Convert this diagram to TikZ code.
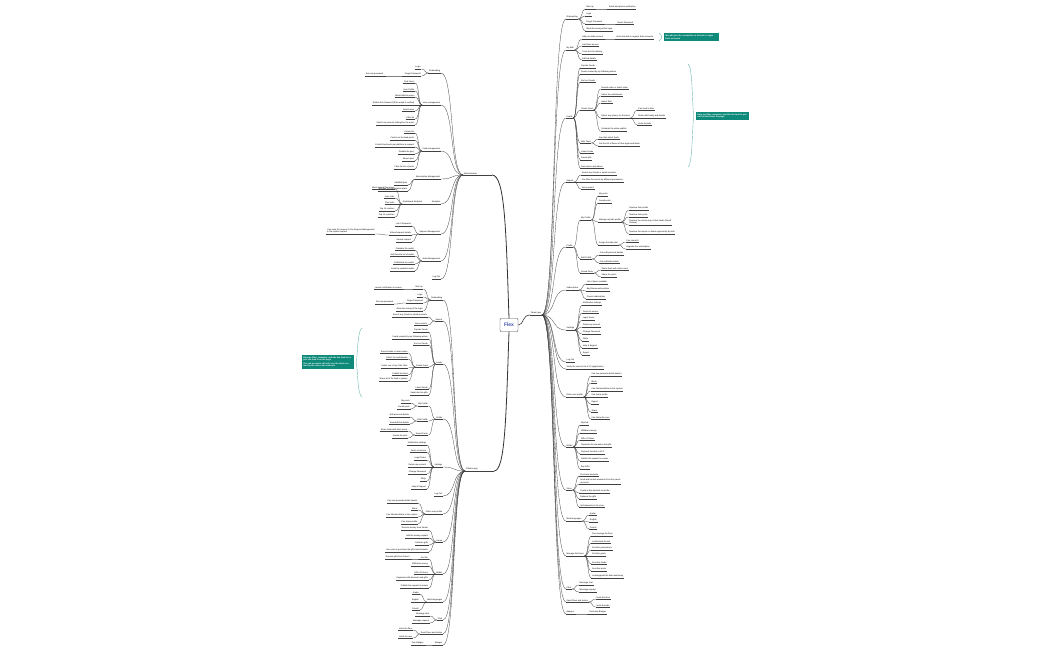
\documentclass[tikz,border=0pt]{standalone}
\usepackage{fontspec}
\setmainfont{Liberation Sans}
\usetikzlibrary{calc}
\definecolor{tealc}{HTML}{0E8A7A}
\definecolor{flexblue}{HTML}{3F51B5}
\newcommand{\lf}{\fontsize{2.1}{2.6}\selectfont}
\tikzset{
 leaf/.style={font=\lf, inner xsep=0.6pt, inner ysep=0.7pt, align=left},
 ul/.style={draw=black!75, line width=0.25pt},
 conn/.style={draw=black!75, line width=0.3pt},
 note/.style={fill=tealc, text=white, font=\lf\bfseries, inner sep=1.5pt, align=left},
 bracket/.style={draw=tealc!60, line width=0.4pt}
}
% \lchild[gap]{id}{parent}{y}{text}
\newcommand{\lchild}[5][7]{%
 \coordinate (tmpa) at ($(#3.south west)+(-#1,0)$);
 \coordinate (tmpb) at (0,#4+2);
 \node[leaf,anchor=south east] (#2) at (tmpa |- tmpb) {#5};
 \draw[ul] (#2.south west) -- (#2.south east);
 \draw[conn] (#3.south west) .. controls +(-0.6*#1,0) and +(0.6*#1,0) .. (#2.south east);}
\newcommand{\rchild}[5][7]{%
 \coordinate (tmpa) at ($(#3.south east)+(#1,0)$);
 \coordinate (tmpb) at (0,#4+2);
 \node[leaf,anchor=south west] (#2) at (tmpa |- tmpb) {#5};
 \draw[ul] (#2.south west) -- (#2.south east);
 \draw[conn] (#3.south east) .. controls +(0.6*#1,0) and +(-0.6*#1,0) .. (#2.south west);}
\begin{document}
\begin{tikzpicture}[x=1pt,y=-1pt]
\useasboundingbox[fill=white] (0,0) rectangle (1050,650);
% centre
\node[draw=black!70, rounded corners=1pt, fill=white, text=flexblue, font=\fontsize{5}{6}\selectfont\bfseries, minimum width=18pt, minimum height=13pt] (flex) at (509,325) {Flex};
% level 1
\node[leaf,anchor=south west] (auth) at (463,175) {Authentication};
\node[leaf,anchor=south west] (chapp) at (465,471) {Children app};
\node[leaf,anchor=south west] (pa) at (530,315) {Parent app};
\coordinate (authend) at (492,175);
\coordinate (chend) at (494,471);
\draw[ul] (auth.south west) -- (authend);
\draw[ul] (chapp.south west) -- (chend);
\draw[ul] (pa.south west) -- (pa.south east);
\draw[black!80, line width=0.8pt] (authend) .. controls (505,175) and (506,230) .. (flex.north);
\draw[black!80, line width=0.8pt] (chend) .. controls (505,471) and (506,420) .. (flex.south);
\draw[black!80, line width=0.6pt] (flex.east) .. controls (524,325) and (522,315) .. (pa.south west);

% ===== Authentication =====
\lchild[22]{a1}{auth}{71}{Onboarding}
 \lchild{a11}{a1}{67}{Login}
 \lchild{a12}{a1}{74}{Forgot Password}
  \lchild[20]{a121}{a12}{74}{Set new password}
\lchild[22]{a2}{auth}{103}{User management}
 \lchild{a21}{a2}{81}{Find Users}
 \lchild{a22}{a2}{89}{User Profile}
 \lchild{a23}{a2}{95}{Block/Unblock users}
 \lchild{a24}{a2}{103}{Enable the Password (if the email is verified)}
 \lchild{a25}{a2}{109}{Search user}
 \lchild{a26}{a2}{117}{Filter list}
 \lchild{a27}{a2}{123}{Switch my account settings for the users}
\lchild[22]{a3}{auth}{149}{Feed management}
 \lchild{a31}{a3}{131}{Create list}
 \lchild{a32}{a3}{138}{Control on the feed posts}
 \lchild{a33}{a3}{145}{Control feed posts per platform in request}
 \lchild{a34}{a3}{152}{Disable the post}
 \lchild{a35}{a3}{159}{Search post}
 \lchild{a36}{a3}{167}{Filter the list of posts}
\lchild[22]{a4}{auth}{177}{Subscription Management}
 \lchild{a41}{a4}{183}{Add/Edit plan}
 \lchild{a42}{a4}{189}{Manage the subscription plans}
\lchild[22]{a5}{auth}{202}{Analytics}
 \lchild[8]{a51}{a5}{202}{Dashboard Analytics}
  \lchild{a511}{a51}{187}{Most viewed Flex users}
  \lchild{a512}{a51}{196}{User stats}
  \lchild{a513}{a51}{202}{Flex stats}
  \lchild{a514}{a51}{209}{Top 10 creators}
  \lchild{a515}{a51}{215}{Top 10 countries}
\lchild[22]{a6}{auth}{232}{Request Management}
 \lchild{a61}{a6}{224}{List of Requests}
 \lchild{a62}{a6}{233}{Extend request details}
  \lchild[14]{a621}{a62}{232}{Can open the request to the Request Management\\in the system request}
 \lchild{a63}{a6}{240}{Search request}
\lchild[22]{a7}{auth}{259}{Audit Management}
 \lchild{a71}{a7}{248}{Calendar the audits}
 \lchild{a72}{a7}{254}{Set/View the list of audits}
 \lchild{a73}{a7}{262}{Get/Delete the audits}
 \lchild{a74}{a7}{269}{Send the updated audits}
\lchild[22]{a8}{auth}{277}{Log Out}

% ===== Children app =====
\lchild[22]{c1}{chapp}{298}{Onboarding}
 \lchild{c11}{c1}{287}{Start up}
  \lchild[12]{c111}{c11}{287}{Launch notification to screen}
 \lchild{c12}{c1}{295}{Login}
 \lchild{c13}{c1}{301}{Forgot Password}
  \lchild[12]{c131}{c13}{302}{Set new password}
 \lchild{c14}{c1}{309}{Allow the saving of the login}
\lchild[22]{c2}{chapp}{319}{Search}
 \lchild{c21}{c2}{315}{Search any Feeds or email accounts}
 \lchild{c22}{c2}{323}{Voice search}
\lchild[22]{c3}{chapp}{362}{Feeds}
 \lchild{c31}{c3}{330}{Popular Feeds}
 \lchild{c32}{c3}{337}{Feeds created by my following writers}
 \lchild{c33}{c3}{343}{Sort out Feeds}
 \lchild{c34}{c3}{365}{Create Feed}
  \lchild{c341}{c34}{351}{Record video or select video}
  \lchild{c342}{c34}{357}{Select the audio/music}
  \lchild{c343}{c34}{366}{Select one of any Film Filter}
  \lchild{c344}{c34}{373}{Publish the feed}
  \lchild{c345}{c34}{379}{Share all of the feed to gallery}
 \lchild{c35}{c3}{387}{Latest Feeds}
 \lchild{c36}{c3}{393}{Save/Like the gifts}
\lchild[22]{c4}{chapp}{417}{Profile}
 \lchild{c41}{c4}{404}{My Profile}
  \lchild{c411}{c41}{401}{My posts}
  \lchild{c412}{c41}{407}{Saved posts}
 \lchild{c42}{c4}{419}{Edit Profile}
  \lchild{c421}{c42}{415}{Edit personal details}
  \lchild{c422}{c42}{422}{Save/edit the details}
 \lchild{c43}{c4}{433}{Saved Posts}
  \lchild{c431}{c43}{429}{Share them with other users}
  \lchild{c432}{c43}{436}{Create the post}
\lchild[22]{c5}{chapp}{465}{Settings}
 \lchild{c51}{c5}{443}{Notification settings}
 \lchild{c52}{c5}{450}{Terms of service}
 \lchild{c53}{c5}{458}{Legal Terms}
 \lchild{c54}{c5}{465}{Delete my account}
 \lchild{c55}{c5}{472}{Change Password}
 \lchild{c56}{c5}{479}{FAQs}
 \lchild{c57}{c5}{487}{Help \& Support}
\lchild[22]{c6}{chapp}{494}{Log Out}
\lchild[22]{c7}{chapp}{512}{Other user profile}
 \lchild{c71}{c7}{501}{Can see personal details (basic)}
 \lchild{c72}{c7}{508}{Block}
 \lchild{c73}{c7}{515}{Can follow/unfollow in the system}
 \lchild{c74}{c7}{522}{Can share profile}
\lchild[22]{c8}{chapp}{540}{Home}
 \lchild{c81}{c8}{528}{Receive money from Parent}
 \lchild{c82}{c8}{536}{Add the money request}
 \lchild{c83}{c8}{543}{Get/earn gifts}
 \lchild{c84}{c8}{550}{Use coins to purchase the gifts and elements}
\lchild[22]{c9}{chapp}{572}{Wallet}
 \lchild{c91}{c9}{557}{Get the}
  \lchild[10]{c911}{c91}{557}{Receive gifts from Parent}
 \lchild{c92}{c9}{564}{Withdraw money}
 \lchild{c93}{c9}{572}{Gifts of Flexes}
 \lchild{c94}{c9}{578}{Payments with elements and gifts}
 \lchild{c95}{c9}{586}{Publish the request to review}
\lchild[22]{c10}{chapp}{600}{Multi languages}
 \lchild{c101}{c10}{592}{Arabic}
 \lchild{c102}{c10}{600}{English}
 \lchild{c103}{c10}{608}{French}
\lchild[22]{c11}{chapp}{618}{Chat}
 \lchild{c111b}{c11}{614}{Message chat}
 \lchild{c112}{c11}{621}{Message request}
\lchild[22]{c12}{chapp}{632}{Send Flexs and Invites}
 \lchild{c121}{c12}{628}{Invite the flexs}
 \lchild{c122}{c12}{636}{Invite the user}
\lchild[22]{c13}{chapp}{643}{Badges}
 \lchild[10]{c131b}{c13}{643}{Flex Badges}

% ===== Parent app =====
\rchild[24]{p1}{pa}{17}{Onboarding}
 \rchild{p11}{p1}{7}{Start up}
  \rchild[14]{p111}{p11}{7}{Email and phone verification}
 \rchild{p12}{p1}{14}{Login}
 \rchild{p13}{p1}{22}{Forgot Password}
  \rchild[14]{p131}{p13}{22}{Reset Password}
 \rchild{p14}{p1}{29}{Allow the saving of the login}
\rchild[24]{p2}{pa}{48}{My kids}
 \rchild{p21}{p2}{37}{Add your kids account}
  \rchild[12]{p211}{p21}{37}{Invite the kids to register their accounts}
 \rchild{p22}{p2}{44}{Limit their access}
 \rchild{p23}{p2}{52}{Track the Flex Money}
 \rchild{p24}{p2}{58}{Edit kid details}
\rchild[24]{p3}{pa}{116}{Feeds}
 \rchild{p31}{p3}{66}{Popular Feeds}
 \rchild{p32}{p3}{72}{Feeds created by my following writers}
 \rchild{p33}{p3}{80}{Sort out Feeds}
 \rchild{p34}{p3}{108}{Create Feed}
  \rchild{p341}{p34}{87}{Record video or select video}
  \rchild{p342}{p34}{94}{Select the audio/music}
  \rchild{p343}{p34}{101}{Select filter}
  \rchild{p344}{p34}{116}{Select any privacy for the feed}
   \rchild{p3441}{p344}{108}{Can send to kids}
   \rchild{p3442}{p344}{116}{Share with family and friends}
   \rchild{p3443}{p344}{123}{Invite the kids}
  \rchild{p345}{p34}{129}{Schedule the video publish}
 \rchild{p35}{p3}{141}{Kids Feed}
  \rchild{p351}{p35}{137}{See their latest feeds}
  \rchild{p352}{p35}{144}{Get the list of flexes of their approved feeds}
 \rchild{p36}{p3}{151}{Latest Feeds}
 \rchild{p37}{p3}{158}{Saved gifts}
 \rchild{p38}{p3}{166}{Save music and videos}
\rchild[24]{p4}{pa}{180}{Search}
 \rchild{p41}{p4}{173}{Search any Feeds or email accounts}
 \rchild{p42}{p4}{180}{Can filter the search by different parameters}
 \rchild{p43}{p4}{187}{Voice search}
\rchild[24]{p5}{pa}{245}{Profile}
 \rchild{p51}{p5}{218}{My Profile}
  \rchild{p511}{p51}{194}{My posts}
  \rchild{p512}{p51}{201}{Saved posts}
  \rchild{p513}{p51}{220}{Manage my kids profile}
   \rchild{p5131}{p513}{208}{Remove their profile}
   \rchild{p5132}{p513}{215}{Remove their posts}
   \rchild{p5133}{p513}{223}{Remove the activity log on their feeds (Read/\\Review)}
   \rchild{p5134}{p513}{232}{Remove the reports or delete opportunity by kids}
  \rchild{p514}{p51}{243}{Assign the kids plan}
   \rchild{p5141}{p514}{240}{Can cancel it}
   \rchild{p5142}{p514}{247}{Upgrade the subscription}
 \rchild{p52}{p5}{257}{Edit Profile}
  \rchild{p521}{p52}{253}{Can edit personal details}
  \rchild{p522}{p52}{261}{Can edit kids details}
 \rchild{p53}{p5}{271}{Saved Posts}
  \rchild{p531}{p53}{268}{Share them with other users}
  \rchild{p532}{p53}{275}{Share the posts}
\rchild[24]{p6}{pa}{288}{Subscription}
 \rchild{p61}{p6}{282}{List of plans available}
 \rchild{p62}{p6}{289}{Buy/Renew subscription}
 \rchild{p63}{p6}{297}{Cancel subscription}
\rchild[24]{p7}{pa}{328}{Settings}
 \rchild{p71}{p7}{303}{Notification settings}
 \rchild{p72}{p7}{311}{Terms of service}
 \rchild{p73}{p7}{318}{Legal Terms}
 \rchild{p74}{p7}{325}{Delete my account}
 \rchild{p75}{p7}{332}{Change Password}
 \rchild{p76}{p7}{339}{FAQs}
 \rchild{p77}{p7}{346}{Help \& Support}
 \rchild{p78}{p7}{353}{Report}
\rchild[24]{p8}{pa}{360}{Log Out}
\rchild[24]{p9}{pa}{367}{Verify the coins in the KYC (application)}
\rchild[24]{p10}{pa}{395}{Other user profile}
 \rchild{p101}{p10}{374}{Can see personal details (basic)}
 \rchild{p102}{p10}{381}{Block}
 \rchild{p103}{p10}{389}{Can follow/unfollow in the system}
 \rchild{p104}{p10}{395}{Can share profile}
 \rchild{p105}{p10}{402}{Report}
 \rchild{p106}{p10}{410}{Share}
 \rchild{p107}{p10}{417}{Can follow the user}
\rchild[24]{p11b}{pa}{445}{Wallet}
 \rchild{p111b}{p11b}{423}{My Kids}
 \rchild{p112}{p11b}{431}{Withdraw money}
 \rchild{p113}{p11b}{438}{Gifts of Flexes}
 \rchild{p114}{p11b}{445}{Payments the elements and gifts}
 \rchild{p115}{p11b}{452}{Payment function in KYC}
 \rchild{p116}{p11b}{459}{Publish the request to review}
 \rchild{p117}{p11b}{467}{Buy Gifts}
\rchild[24]{p12b}{pa}{488}{Store}
 \rchild{p121}{p12b}{474}{Purchase elements}
 \rchild{p122}{p12b}{482}{Send and receive elements from the parent\\accounts}
 \rchild{p123}{p12b}{491}{Create a flex element on profile}
 \rchild{p124}{p12b}{497}{Redeem the gifts}
 \rchild{p125}{p12b}{505}{Sell elements in the store}
\rchild[24]{p13b}{pa}{519}{Multi languages}
 \rchild{p131b}{p13b}{513}{Arabic}
 \rchild{p132}{p13b}{520}{English}
 \rchild{p133}{p13b}{527}{French}
\rchild[24]{p14}{pa}{554}{Manage Kid Items}
 \rchild{p141}{p14}{534}{Can manage the flexs}
 \rchild{p142}{p14}{541}{Lock/unlock the kid}
 \rchild{p143}{p14}{548}{Set their permissions}
 \rchild{p144}{p14}{554}{Set their goals}
 \rchild{p145}{p14}{562}{See their feeds}
 \rchild{p146}{p14}{569}{See their posts}
 \rchild{p147}{p14}{576}{Lock/upgrade the kids monitoring}
\rchild[24]{p15}{pa}{587}{Chat}
 \rchild{p151}{p15}{583}{Message chat}
 \rchild{p152}{p15}{590}{Message request}
\rchild[24]{p16}{pa}{600}{Send Flexs and Invites}
 \rchild{p161}{p16}{597}{Invite the flexs}
 \rchild{p162}{p16}{605}{Invite the kids}
\rchild[24]{p17}{pa}{612}{Badges}
 \rchild[14]{p171}{p17}{612}{Purchase Badges}

% ===== notes =====
\node[note, text width=52pt, anchor=west] (n1) at (664,37) {We will give the credentials to the kids to login their accounts};
\draw[bracket] (659,33) .. controls (661,34) and (661,36) .. (662,37) .. controls (661,38) and (661,40) .. (659,41);
\node[note, text width=50pt, anchor=west] (n2) at (696,116) {Here we filter, comment, and like the feed to parent the feed from the page};
\draw[bracket] (688,64) .. controls (693,66) and (692,110) .. (694,116) .. controls (692,122) and (693,164) .. (688,167);
\node[note, text width=49pt, anchor=east] (n3) at (354,362) {Here we filter, comment, and like the feed to report the feed from the page\\[1pt]The sub accounts will only see the feeds created by the other sub accounts};
\draw[bracket] (362,328) .. controls (357,331) and (358,356) .. (356,362) .. controls (358,368) and (357,394) .. (362,397);
\end{tikzpicture}
\end{document}
